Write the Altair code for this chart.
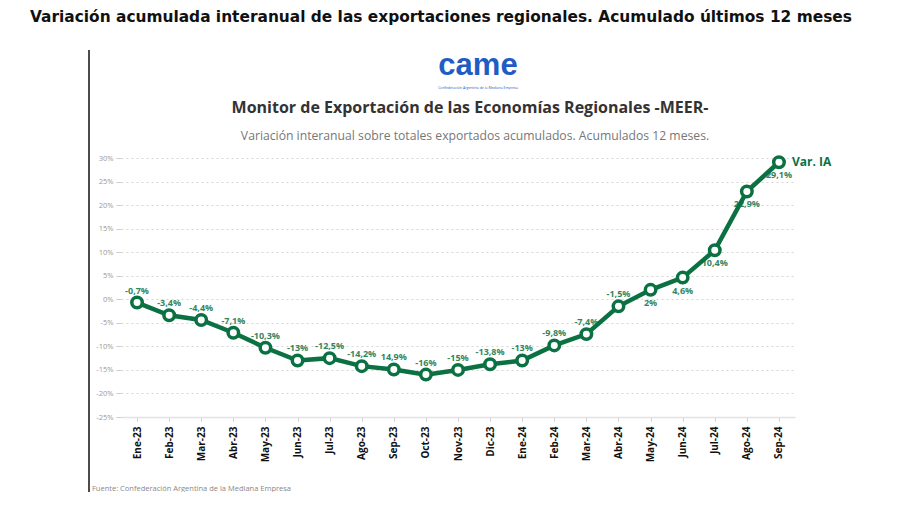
import altair as alt
import pandas as pd

months = ["Ene-23", "Feb-23", "Mar-23", "Abr-23", "May-23", "Jun-23", "Jul-23",
          "Ago-23", "Sep-23", "Oct-23", "Nov-23", "Dic-23", "Ene-24", "Feb-24",
          "Mar-24", "Abr-24", "May-24", "Jun-24", "Jul-24", "Ago-24", "Sep-24"]
values = [-0.7, -3.4, -4.4, -7.1, -10.3, -13.0, -12.5, -14.2, -14.9, -16.0, -15.0,
          -13.8, -13.0, -9.8, -7.4, -1.5, 2.0, 4.6, 10.4, 22.9, 29.1]
labels = ["-0,7%", "-3,4%", "-4,4%", "-7,1%", "-10,3%", "-13%", "-12,5%", "-14,2%",
          "14,9%", "-16%", "-15%", "-13,8%", "-13%", "-9,8%", "-7,4%", "-1,5%",
          "2%", "4,6%", "10,4%", "22,9%", "29,1%"]
y_ticks = [30, 25, 20, 15, 10, 5, 0, -5, -10, -15, -20, -25]

df = pd.DataFrame({"mes": months, "valor": values, "etiqueta": labels,
                   "idx": list(range(len(months)))})

GREEN = "#0b7142"
FONT = "Open Sans"

x = alt.X("mes:O", sort=months, scale=alt.Scale(type="point", padding=0.5),
          axis=alt.Axis(title=None, labelAngle=-90, labelFontWeight="bold",
                        labelFontSize=10, labelColor="#111", labelFont=FONT,
                        labelPadding=5, tickColor="#ccc", tickSize=4,
                        domainColor="#e2e2e2", domainWidth=1.5, grid=False))
y = alt.Y("valor:Q", scale=alt.Scale(domain=[-25, 30], nice=False),
          axis=alt.Axis(title=None, values=y_ticks,
                        labelExpr="datum.value + '%'", labelFontSize=7.5,
                        labelColor="#999", labelFont=FONT, tickColor="#ccc",
                        tickSize=5, labelPadding=3, domain=False,
                        grid=True, gridColor="#d4d4d4", gridDash=[2, 3],
                        gridWidth=1))

base = alt.Chart(df)

line = base.mark_line(color=GREEN, strokeWidth=4.5).encode(x=x, y=y)
points = base.mark_point(filled=True, fill="white", stroke=GREEN, strokeWidth=3.5,
                         size=110, opacity=1).encode(x=x, y=y)

lab_above = base.transform_filter("datum.idx <= 15").mark_text(
    color=GREEN, fontSize=9, fontWeight="bold", font=FONT, dy=-12, opacity=0.85
).encode(x=x, y=y, text="etiqueta:N")
lab_below = base.transform_filter("datum.idx > 15").mark_text(
    color=GREEN, fontSize=9, fontWeight="bold", font=FONT, dy=13, opacity=0.85
).encode(x=x, y=y, text="etiqueta:N")

var_ia = base.transform_filter("datum.idx == 20").mark_text(
    color=GREEN, fontSize=12, fontWeight="bold", font=FONT, align="left", dx=13
).encode(x=x, y=y, text=alt.value("Var. IA"))

# annotation layers
def txt(text, xv, yv, size, color, weight="normal", align="left", font=FONT):
    return alt.Chart(pd.DataFrame({"t": [text]})).mark_text(
        fontSize=size, color=color, fontWeight=weight, align=align,
        baseline="middle", font=font
    ).encode(x=alt.value(xv), y=alt.value(yv), text="t:N")

title = txt("Variación acumulada interanual de las exportaciones regionales. Acumulado últimos 12 meses",
            -91, -141, 15.4, "#111", "bold", font="DejaVu Sans")
inner_title = txt("Monitor de Exportación de las Economías Regionales -MEER-",
                  349, -50, 16, "#333", "bold", align="center")
subtitle = txt("Variación interanual sobre totales exportados acumulados. Acumulados 12 meses.",
               354, -22, 12.2, "#777", align="center")
logo = txt("came", 357, -92, 31, "#1f5cc4", "bold", align="center", font="Liberation Sans")
logo_sub = txt("Confederación Argentina de la Mediana Empresa", 357, -70, 3.5, "#1f5cc4",
               align="center")
source = txt("Fuente: Confederación Argentina de la Mediana Empresa", -29, 331, 7.5, "#888")

vline = alt.Chart(pd.DataFrame({"a": [0]})).mark_rule(color="#111", strokeWidth=1.5).encode(
    x=alt.value(-32), y=alt.value(-108), y2=alt.value(350))

chart = alt.layer(line, points, lab_above, lab_below, var_ia, title, inner_title,
                  subtitle, logo, logo_sub, source, vline).properties(
    width=674, height=259,
    autosize=alt.AutoSizeParams(type="none"),
    padding={"left": 113, "top": 150, "right": 80, "bottom": 75},
    background="white",
).configure_view(stroke=None)

chart.save("out.html", embed_options={"renderer": "svg", "actions": False})
